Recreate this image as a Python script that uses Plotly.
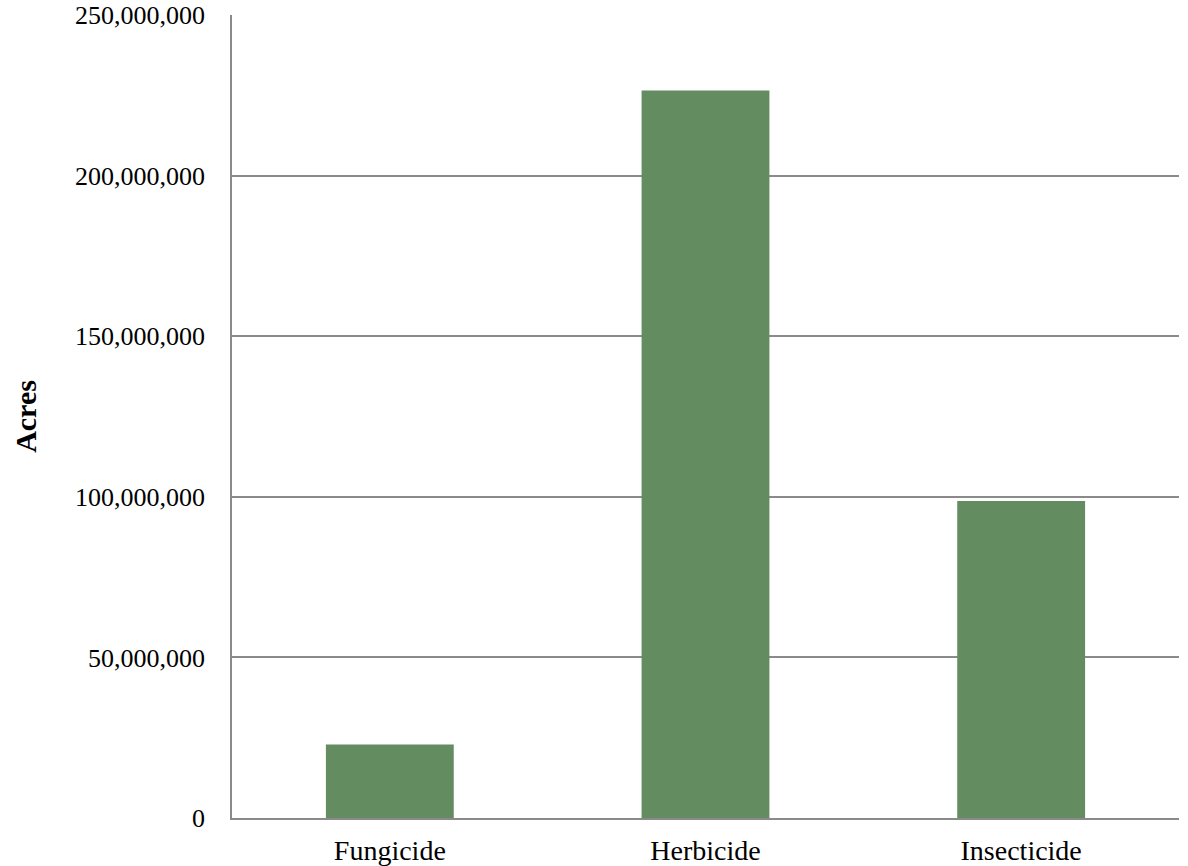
import plotly.graph_objects as go

categories = ["Fungicide", "Herbicide", "Insecticide"]
acres = [22_860_000, 226_500_000, 98_700_000]
y_ticks = [0, 50_000_000, 100_000_000, 150_000_000, 200_000_000, 250_000_000]
y_tick_labels = ["0", "50,000,000", "100,000,000", "150,000,000", "200,000,000", "250,000,000"]

fig = go.Figure(go.Bar(x=categories, y=acres, marker=dict(color="#638C60", line=dict(width=0))))

font_family = "Liberation Serif, DejaVu Serif, serif"
fig.update_layout(
    width=1188, height=866,
    margin=dict(l=232, r=9, t=15, b=48, autoexpand=False),
    paper_bgcolor="white", plot_bgcolor="white",
    bargap=0.595,
    showlegend=False,
    font=dict(family=font_family, size=20, color="black"),
)
fig.update_yaxes(
    range=[0, 250_000_000], tickvals=y_ticks, ticktext=y_tick_labels,
    showgrid=True, gridcolor="#8a8a8a", gridwidth=1.5,
    showline=True, linecolor="#8a8a8a", linewidth=1.5,
    zeroline=False, ticks="", ticklabelstandoff=20, automargin=False,
    tickfont=dict(family=font_family, size=26),
    title=dict(text="<b>Acres</b>", font=dict(family=font_family, size=30), standoff=30),
)
fig.update_xaxes(
    showline=True, linecolor="#8a8a8a", linewidth=1.5,
    ticks="", ticklabelstandoff=7, automargin=False,
    tickfont=dict(family=font_family, size=28),
)
fig.write_html("out.html")
